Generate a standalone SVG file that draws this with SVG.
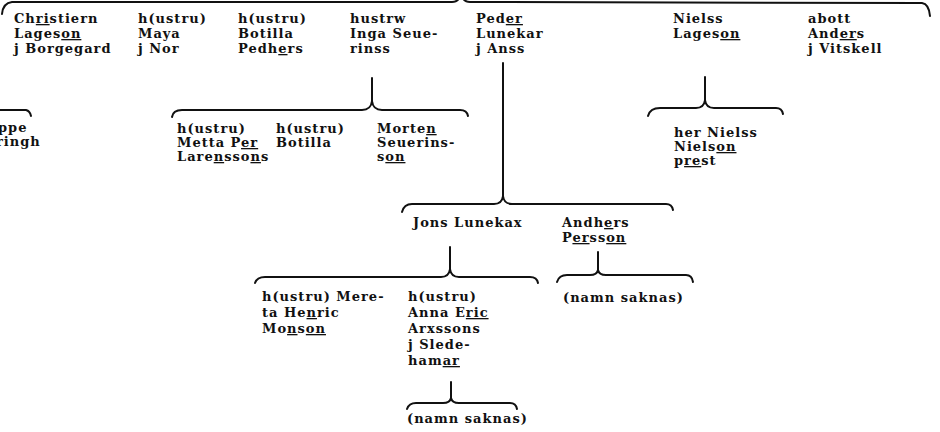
<svg xmlns="http://www.w3.org/2000/svg" width="940" height="432" viewBox="0 0 940 432">
<style>
  text { font-family: "DejaVu Serif", "Liberation Serif", serif; font-weight: bold; font-size: 13px; fill: #111; letter-spacing: 1px; }
  .u { text-decoration: underline; }
  .c path, .c line { fill: none; stroke: #111; stroke-width: 2; stroke-linecap: round; stroke-linejoin: round; }
</style>
<rect width="940" height="432" fill="#fff"/>
<g id="connectors" class="c">
  <!-- top brace -->
  <path d="M2 14 Q3 3 12 2 L452 2 Q460 2 461 -8 Q462 2 470 2 L922 3 Q929 4 930 16"/>
  <!-- left fragment -->
  <path d="M0 110 L26 110 Q30 111 31 116"/>
  <!-- hustrw children -->
  <line x1="372" y1="78" x2="372" y2="101"/>
  <path d="M172 117 Q173 110 182 110 L362 110 Q371 110 372 101 Q373 110 382 110 L460 110 Q467 110 468 116"/>
  <!-- Nielss children -->
  <line x1="705" y1="77" x2="705" y2="100"/>
  <path d="M648 116 Q650 108 660 108 L696 108 Q704 108 705 100 Q706 108 714 108 L776 108 Q782 108 783 114"/>
  <!-- Peder children -->
  <line x1="503" y1="63" x2="503" y2="196"/>
  <path d="M402 212 Q404 204 412 204 L494 204 Q502 204 503 196 Q504 204 512 204 L666 204 Q672 204 673 210"/>
  <!-- Jons children -->
  <line x1="450" y1="247" x2="450" y2="269"/>
  <path d="M255 283 Q257 277 265 277 L441 277 Q449 277 450 269 Q451 277 459 277 L530 277 Q537 277 538 283"/>
  <!-- Andhers children -->
  <line x1="598" y1="252" x2="598" y2="270"/>
  <path d="M557 282 Q559 275 567 275 L590 275 Q597 275 598 270 Q599 275 606 275 L686 275 Q692 275 693 282"/>
  <!-- Anna children -->
  <line x1="451" y1="382" x2="451" y2="398"/>
  <path d="M407 409 Q409 403 416 403 L443 403 Q450 403 451 398 Q452 403 459 403 L510 403 Q516 403 517 409"/>
</g>

<g id="n-christiern">
  <text x="14" y="23">Ch<tspan class="u">ri</tspan>stiern</text>
  <text x="14" y="38">Lages<tspan class="u">on</tspan></text>
  <text x="14" y="53">j Borgegard</text>
</g>
<g id="n-maya">
  <text x="138" y="23">h(ustru)</text>
  <text x="138" y="38">Maya</text>
  <text x="138" y="53">j Nor</text>
</g>
<g id="n-botilla">
  <text x="238" y="23">h(ustru)</text>
  <text x="238" y="38">Botilla</text>
  <text x="238" y="53">Pedh<tspan class="u">e</tspan>rs</text>
</g>
<g id="n-inga">
  <text x="350" y="23">hustrw</text>
  <text x="350" y="38">Inga Seue-</text>
  <text x="350" y="53">rinss</text>
</g>
<g id="n-peder">
  <text x="476" y="23">Ped<tspan class="u">er</tspan></text>
  <text x="476" y="38">Lunekar</text>
  <text x="476" y="53">j Anss</text>
</g>
<g id="n-nielss">
  <text x="673" y="23">Nielss</text>
  <text x="673" y="38">Lages<tspan class="u">on</tspan></text>
</g>
<g id="n-anders">
  <text x="808" y="23">abott</text>
  <text x="808" y="38">And<tspan class="u">er</tspan>s</text>
  <text x="808" y="53">j Vitskell</text>
</g>
<g id="n-fragment">
  <text x="-2" y="132">ppe</text>
  <text x="-4" y="146">ringh</text>
</g>
<g id="n-metta">
  <text x="177" y="133">h(ustru)</text>
  <text x="177" y="147">Metta P<tspan class="u">er</tspan></text>
  <text x="177" y="161">Lare<tspan class="u">n</tspan>sso<tspan class="u">n</tspan>s</text>
</g>
<g id="n-botilla2">
  <text x="276" y="133">h(ustru)</text>
  <text x="276" y="147">Botilla</text>
</g>
<g id="n-morten">
  <text x="377" y="133">Morte<tspan class="u">n</tspan></text>
  <text x="377" y="147">Seuerins-</text>
  <text x="377" y="161">s<tspan class="u">on</tspan></text>
</g>
<g id="n-hernielss">
  <text x="674" y="137">her Nielss</text>
  <text x="674" y="151">Niels<tspan class="u">on</tspan></text>
  <text x="674" y="165">p<tspan class="u">re</tspan>st</text>
</g>
<g id="n-jons">
  <text x="413" y="227">Jons Lunekax</text>
</g>
<g id="n-andhers">
  <text x="562" y="227">Andh<tspan class="u">e</tspan>rs</text>
  <text x="562" y="242">P<tspan class="u">er</tspan>ss<tspan class="u">on</tspan></text>
</g>
<g id="n-mereta">
  <text x="262" y="301">h(ustru) Mere-</text>
  <text x="262" y="317">ta He<tspan class="u">n</tspan>ric</text>
  <text x="262" y="333">Mo<tspan class="u">n</tspan>s<tspan class="u">on</tspan></text>
</g>
<g id="n-anna">
  <text x="408" y="301">h(ustru)</text>
  <text x="408" y="317">Anna E<tspan class="u">ric</tspan></text>
  <text x="408" y="333">Arxssons</text>
  <text x="408" y="349">j Slede-</text>
  <text x="408" y="365">ham<tspan class="u">ar</tspan></text>
</g>
<g id="n-saknas1">
  <text x="563" y="302">(namn saknas)</text>
</g>
<g id="n-saknas2">
  <text x="407" y="423">(namn saknas)</text>
</g>
</svg>
